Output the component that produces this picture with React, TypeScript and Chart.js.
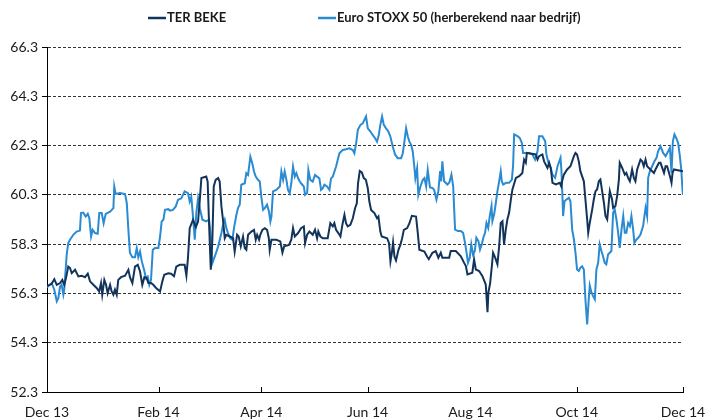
import React, { useEffect, useRef } from "react";
import { Chart, registerables } from "chart.js";

Chart.register(...registerables);

// x values: days since the first date on the axis (end of Nov 2013)
const X_TICK_DAYS = [0, 64, 123, 184, 243, 304, 365];
const X_TICK_LABELS = ["Dec 13", "Feb 14", "Apr 14", "Jun 14", "Aug 14", "Oct 14", "Dec 14"];
const Y_TICKS = [52.3, 54.3, 56.3, 58.3, 60.3, 62.3, 64.3, 66.3];

const SERIES_NAMES = ["TER BEKE", "Euro STOXX 50 (herberekend naar bedrijf)"];
const SERIES_COLORS = ["#12345a", "#2a8bd2"];

const TER_DAYS = [
  0, 2.7, 4.2, 5.6, 7.5, 8.8, 9.9, 10.9, 12.2, 13.2, 14.2, 16.1, 18.0, 19.9, 21.8, 23.4, 24.7, 26.6, 28.5, 29.9,
  31.0, 31.7, 32.9, 33.9, 34.8, 36.2, 37.1, 38.1, 39.0, 40.0, 40.9, 42.5, 44.8, 46.7, 47.6, 49.0, 50.5, 52.1, 53.4, 54.7,
  55.9, 57.2, 58.2, 59.7, 61.0, 62.6, 64.9, 66.2, 67.3, 69.6, 71.2, 72.9, 74.2, 76.2, 79.0, 80.0, 80.9, 81.9, 83.8, 85.4,
  86.7, 87.7, 88.6, 91.4, 92.2, 93.0, 94.0, 94.9, 95.7, 96.8, 98.2, 99.1, 100.1, 101.0, 102.0, 102.9, 104.9, 106.8, 107.7, 109.1,
  110.0, 111.2, 112.5, 113.5, 114.4, 115.4, 117.3, 118.8, 119.8, 120.6, 121.7, 122.4, 123.6, 125.0, 126.3, 127.3, 127.8, 128.8, 131.6, 133.9,
  135.1, 136.1, 138.9, 140.2, 141.2, 142.2, 144.1, 145.8, 147.4, 148.1, 149.3, 150.6, 152.5, 153.8, 155.0, 155.7, 156.9, 158.3, 161.1, 162.6,
  164.0, 164.9, 165.9, 167.2, 168.4, 169.7, 170.7, 171.6, 172.6, 174.1, 175.5, 176.8, 177.8, 178.5, 179.5, 180.7, 181.8, 183.0, 184.1, 185.0,
  186.0, 187.9, 189.4, 190.2, 191.3, 192.1, 195.2, 196.3, 197.1, 197.9, 198.6, 199.4, 200.3, 201.7, 202.8, 203.8, 204.8, 206.7, 208.0, 209.4,
  211.8, 212.8, 213.7, 216.6, 218.1, 219.1, 221.2, 223.1, 224.6, 226.0, 226.9, 230.8, 231.7, 234.6, 237.5, 239.4, 240.4, 241.3, 244.1, 245.1,
  246.1, 248.0, 249.9, 251.8, 252.8, 253.3, 254.3, 255.3, 256.0, 257.2, 258.5, 259.5, 260.4, 261.4, 262.3, 263.3, 264.2, 265.2, 266.2, 267.1,
  269.1, 271.0, 272.8, 273.8, 274.8, 275.4, 280.5, 281.5, 282.4, 284.3, 285.3, 287.2, 288.2, 289.1, 290.1, 292.0, 294.3, 295.1, 295.6, 296.6,
  298.5, 300.4, 302.4, 303.3, 304.2, 305.2, 306.1, 308.1, 309.0, 310.0, 310.6, 311.5, 312.9, 313.8, 314.8, 315.7, 316.7, 317.6, 318.6, 319.6,
  320.5, 321.5, 322.4, 323.0, 324.3, 324.9, 326.2, 327.2, 328.2, 328.7, 330.1, 331.6, 332.5, 333.5, 334.5, 335.8, 336.8, 337.7, 338.7, 340.6,
  341.6, 342.5, 343.5, 344.4, 346.3, 348.3, 349.2, 351.2, 352.1, 354.1, 355.0, 355.9, 357.5, 358.4, 359.0, 359.8, 365.0,
];
const TER_VALUES = [
  56.6, 56.69, 56.88, 56.65, 56.72, 56.85, 56.65, 56.92, 57.39, 57.33, 57.12, 57.26, 56.99, 57.02, 56.96, 57.1, 56.79, 56.65, 56.52, 56.38,
  56.72, 56.25, 56.85, 56.65, 56.31, 56.65, 56.38, 56.25, 56.45, 56.25, 56.85, 56.96, 57.02, 57.26, 56.96, 56.72, 57.39, 57.46, 57.19, 56.65,
  56.96, 56.92, 56.72, 56.72, 56.65, 56.52, 56.38, 56.79, 57.06, 57.12, 57.1, 57.0, 57.39, 57.46, 57.46, 57.02, 57.73, 58.95, 59.29, 58.99,
  59.22, 60.1, 60.98, 61.04, 60.84, 59.15, 57.26, 58.48, 60.64, 60.91, 60.98, 60.84, 59.83, 59.29, 58.54, 58.68, 58.61, 58.54, 58.0, 58.68,
  58.61, 58.21, 58.61, 58.14, 58.07, 58.68, 58.81, 58.88, 58.48, 58.68, 58.48, 58.68, 58.88, 58.95, 58.88, 58.54, 58.07, 58.48, 58.48, 58.41,
  57.96, 58.21, 58.27, 58.48, 58.95, 58.61, 58.75, 58.95, 59.02, 58.34, 58.68, 58.81, 58.68, 58.88, 58.54, 58.81, 58.61, 58.54, 58.54, 59.15,
  59.02, 59.15, 58.88, 58.75, 58.61, 59.15, 59.49, 59.15, 59.02, 59.08, 59.35, 59.76, 59.96, 60.77, 61.27, 61.21, 60.98, 60.91, 60.57, 60.03,
  59.69, 59.56, 59.35, 59.42, 58.81, 58.61, 58.54, 58.34, 57.6, 57.94, 58.37, 57.8, 57.64, 58.07, 58.27, 58.54, 58.88, 58.95, 59.15, 59.45,
  59.42, 58.75, 58.07, 58.0, 57.8, 57.69, 57.95, 58.02, 57.75, 57.95, 57.75, 57.75, 58.02, 58.02, 57.81, 57.54, 57.41, 57.07, 57.14, 57.68,
  57.27, 57.21, 57.0, 56.66, 55.54, 56.33, 56.71, 57.41, 57.95, 57.75, 57.48, 58.22, 59.16, 59.23, 58.29, 58.89, 59.3, 59.57, 60.11, 60.52,
  60.99, 61.06, 61.19, 61.73, 61.6, 62.0, 61.94, 61.73, 61.87, 61.94, 61.66, 61.39, 61.6, 61.39, 60.79, 60.72, 60.79, 60.65, 60.85, 61.12,
  61.33, 61.46, 61.87, 62.0, 61.94, 61.66, 61.26, 60.85, 60.11, 59.3, 58.76, 59.16, 59.71, 60.11, 60.45, 60.52, 60.85, 60.92, 60.45, 59.98,
  59.44, 59.3, 59.98, 60.45, 60.11, 59.77, 59.84, 60.25, 60.92, 61.6, 61.39, 61.12, 61.19, 60.99, 60.85, 61.33, 60.99, 60.85, 61.33, 61.73,
  61.66, 61.46, 61.73, 61.46, 61.33, 61.19, 61.33, 61.6, 61.6, 61.19, 61.46, 61.46, 61.06, 60.79, 61.19, 61.33, 61.26,
];

const STOXX_DAYS = [
  0, 2.7, 4.2, 5.6, 6.5, 7.5, 8.4, 9.4, 9.9, 11.3, 12.2, 13.2, 15.1, 17.0, 18.9, 19.5, 20.8, 22.2, 23.4, 24.3,
  25.3, 26.2, 27.6, 29.1, 30.0, 31.4, 32.5, 33.7, 36.2, 38.1, 38.6, 39.4, 41.9, 44.8, 45.8, 46.7, 47.6, 49.0, 50.5, 51.5,
  52.4, 53.4, 54.4, 55.7, 56.8, 57.8, 58.7, 59.7, 60.7, 62.0, 63.9, 64.9, 65.8, 66.8, 67.7, 69.6, 70.6, 72.3, 73.9, 75.2,
  77.1, 79.0, 80.9, 81.9, 82.8, 83.8, 84.8, 85.7, 86.7, 87.7, 89.2, 91.4, 93.0, 94.0, 94.9, 96.3, 98.2, 100.1, 101.0, 102.0,
  102.9, 103.9, 105.2, 106.4, 107.3, 108.7, 109.6, 110.6, 111.5, 113.5, 114.4, 115.4, 116.7, 117.8, 118.8, 119.8, 121.1, 122.1, 123.0, 124.0,
  125.0, 126.3, 127.4, 128.2, 128.8, 129.7, 131.6, 133.6, 134.5, 135.5, 136.4, 137.4, 138.3, 139.3, 140.2, 141.2, 142.2, 143.1, 144.1, 145.1,
  145.8, 147.4, 148.1, 149.3, 150.0, 151.1, 152.5, 153.8, 155.0, 156.3, 157.3, 158.3, 159.2, 160.7, 162.1, 163.0, 164.0, 165.9, 167.8, 169.7,
  171.6, 173.5, 175.5, 176.4, 177.4, 178.4, 179.9, 181.2, 183.1, 184.1, 185.6, 186.9, 188.3, 189.4, 190.4, 191.3, 192.3, 193.3, 194.6, 195.9,
  197.1, 198.4, 199.8, 201.3, 203.2, 204.2, 205.1, 206.1, 207.1, 208.0, 209.0, 209.9, 210.8, 211.4, 212.4, 213.1, 214.3, 215.7, 216.6, 217.6,
  218.5, 219.8, 221.2, 222.2, 223.5, 224.6, 225.6, 226.2, 226.9, 227.9, 229.8, 230.9, 232.1, 233.1, 234.2, 235.9, 237.5, 238.8, 239.9, 240.7,
  241.6, 242.6, 243.5, 244.5, 245.5, 246.4, 247.6, 248.5, 249.5, 250.4, 251.4, 252.2, 253.2, 254.1, 255.1, 255.6, 256.6, 257.6, 258.5, 259.5,
  260.4, 261.0, 261.8, 263.5, 265.2, 266.8, 267.5, 268.1, 270.0, 271.3, 272.5, 273.2, 276.7, 278.6, 280.1, 281.5, 282.4, 284.3, 285.9, 286.6,
  287.8, 289.1, 290.1, 291.6, 293.0, 294.7, 295.2, 295.8, 296.2, 297.0, 298.1, 299.5, 300.4, 301.4, 302.4, 303.3, 304.2, 305.2, 306.1, 307.1,
  308.1, 309.0, 310.0, 310.9, 311.5, 312.4, 313.4, 314.4, 315.3, 316.3, 317.2, 318.2, 319.1, 320.1, 321.0, 322.0, 323.9, 324.9, 325.8, 326.8,
  327.8, 328.7, 329.7, 330.7, 331.6, 332.5, 333.5, 334.5, 335.4, 336.4, 337.1, 338.3, 339.3, 340.6, 342.1, 343.5, 344.4, 345.0, 346.0, 347.3,
  348.6, 349.8, 350.7, 352.1, 353.6, 355.0, 356.5, 357.5, 358.4, 359.2, 360.1, 361.1, 362.2, 363.2, 364.0, 364.7, 365.0,
];
const STOXX_VALUES = [
  56.55, 56.72, 56.45, 55.98, 56.11, 56.58, 56.65, 56.25, 56.45, 57.87, 58.34, 58.48, 58.68, 58.81, 58.85, 59.56, 59.58, 59.42, 59.53, 59.35,
  58.61, 58.88, 58.75, 58.72, 59.56, 59.56, 59.15, 59.53, 59.62, 59.76, 60.64, 60.34, 60.37, 60.33, 59.96, 58.88, 57.94, 57.77, 57.77, 58.14,
  57.77, 58.0, 57.6, 57.26, 56.92, 56.99, 56.65, 56.85, 58.07, 58.14, 58.14, 58.61, 59.22, 59.29, 59.69, 59.72, 59.66, 59.69, 59.83, 60.1,
  60.16, 60.44, 60.37, 60.03, 60.23, 59.42, 58.48, 59.56, 60.16, 59.76, 59.29, 59.22, 59.29, 58.61, 57.53, 57.8, 58.2, 58.75, 59.08, 59.29,
  58.95, 58.75, 58.54, 58.48, 58.95, 59.49, 59.76, 59.9, 60.71, 60.77, 61.18, 61.11, 61.85, 61.58, 61.25, 61.04, 60.91, 60.84, 60.23, 59.69,
  59.76, 59.9, 59.62, 59.22, 59.42, 60.44, 60.5, 60.64, 61.25, 60.91, 61.25, 60.91, 60.5, 60.37, 60.77, 61.45, 61.04, 61.18, 60.97, 60.84,
  60.77, 60.64, 60.3, 60.37, 61.31, 60.91, 60.84, 61.11, 61.04, 60.97, 60.5, 60.57, 60.71, 60.64, 60.5, 60.97, 61.04, 61.45, 61.99, 62.12,
  62.15, 62.19, 62.12, 61.99, 62.39, 62.94, 63.14, 63.2, 63.48, 63.0, 62.87, 62.73, 62.6, 62.46, 62.73, 63.14, 63.48, 63.14, 63.0, 62.87,
  62.66, 62.26, 61.93, 61.79, 61.79, 61.99, 62.46, 63.0, 62.66, 62.46, 62.33, 62.06, 61.45, 60.98, 61.38, 60.3, 60.64, 60.91, 60.98, 60.64,
  61.31, 60.6, 60.58, 60.5, 60.11, 60.45, 61.26, 60.85, 61.66, 60.85, 60.72, 60.8, 61.12, 60.65, 58.89, 58.83, 58.83, 58.76, 58.35, 58.0,
  57.54, 57.74, 58.29, 57.88, 58.02, 58.56, 58.42, 58.08, 58.29, 58.56, 58.76, 59.16, 58.96, 59.44, 59.84, 59.23, 59.5, 59.98, 60.45, 60.85,
  61.26, 60.85, 60.72, 60.79, 60.79, 60.92, 61.5, 62.75, 62.68, 62.61, 62.41, 62.0, 62.0, 61.94, 61.73, 62.07, 62.68, 62.68, 62.48, 61.94,
  61.6, 61.39, 61.12, 60.99, 61.46, 61.8, 61.33, 60.25, 59.44, 60.04, 60.11, 60.18, 60.04, 58.89, 58.49, 57.95, 57.27, 57.21, 57.34, 57.4,
  57.27, 56.06, 55.04, 56.06, 56.62, 56.35, 56.19, 56.06, 57.27, 57.54, 58.29, 58.02, 57.81, 57.54, 57.48, 57.88, 58.02, 59.57, 59.71, 59.3,
  58.76, 58.15, 58.89, 59.44, 58.76, 58.76, 59.16, 59.03, 59.44, 58.89, 58.35, 58.49, 58.56, 58.69, 59.03, 59.77, 59.44, 60.99, 61.26, 61.46,
  61.66, 61.8, 62.07, 62.27, 62.0, 61.87, 62.07, 62.21, 61.19, 62.48, 62.75, 62.61, 62.41, 61.87, 61.33, 60.52, 60.3,
];

const FONT = "Lato, 'Open Sans', sans-serif";

const decorPlugin = {
  id: "decor",
  afterDraw(chart: any) {
    const { ctx, chartArea, scales } = chart;
    ctx.save();
    // inward tick marks on the x axis
    ctx.strokeStyle = "#000";
    ctx.lineWidth = 1;
    scales.x.ticks.forEach((t: any) => {
      const px = Math.round(scales.x.getPixelForValue(t.value)) + 0.5;
      ctx.beginPath();
      ctx.moveTo(px, chartArea.bottom);
      ctx.lineTo(px, chartArea.bottom - 5);
      ctx.stroke();
    });
    // legend
    const starts = [148, 318];
    const y = 18;
    ctx.font = `bold 13px ${FONT}`;
    ctx.textBaseline = "middle";
    ctx.textAlign = "left";
    chart.data.datasets.forEach((ds: any, i: number) => {
      const x0 = starts[i];
      ctx.strokeStyle = ds.borderColor;
      ctx.lineWidth = 2.5;
      ctx.beginPath();
      ctx.moveTo(x0, y);
      ctx.lineTo(x0 + 18, y);
      ctx.stroke();
      ctx.fillStyle = "#1a1a1a";
      ctx.fillText(ds.label, x0 + 19, y);
    });
    ctx.restore();
  },
};

export default function App() {
  const ref = useRef<HTMLCanvasElement | null>(null);
  useEffect(() => {
    if (!ref.current) return;
    const ter = TER_DAYS.map((d, i) => ({ x: d, y: TER_VALUES[i] }));
    const stoxx = STOXX_DAYS.map((d, i) => ({ x: d, y: STOXX_VALUES[i] }));
    const chart = new Chart(ref.current, {
      type: "line",
      data: {
        datasets: [
          { label: SERIES_NAMES[0], data: ter, borderColor: SERIES_COLORS[0], borderWidth: 2, pointRadius: 0, tension: 0, order: 1 },
          { label: SERIES_NAMES[1], data: stoxx, borderColor: SERIES_COLORS[1], borderWidth: 2, pointRadius: 0, tension: 0, order: 2 },
        ],
      },
      options: {
        responsive: false,
        animation: false,
        layout: { padding: { top: 47, right: 22, left: 0, bottom: 0 } },
        plugins: { legend: { display: false }, tooltip: { enabled: false } },
        scales: {
          x: {
            type: "linear",
            min: 0,
            max: 365,
            grid: { display: false, drawTicks: false },
            border: { display: true, color: "#000", width: 1 },
            afterBuildTicks: (s: any) => {
              s.ticks = X_TICK_DAYS.map((v) => ({ value: v }));
            },
            afterFit: (s: any) => {
              s.height = 27;
              s.paddingLeft = 0;
              s.paddingRight = 0;
            },
            ticks: {
              autoSkip: false,
              maxRotation: 0,
              padding: 12,
              color: "#1a1a1a",
              font: { family: FONT, size: 14 },
              callback: (_v: any, i: number) => X_TICK_LABELS[i],
            },
          },
          y: {
            type: "linear",
            min: 52.3,
            max: 66.3,
            grid: { color: "#333", lineWidth: 1, tickLength: 5, tickColor: "#000", tickBorderDash: [] },
            border: { display: true, color: "#000", width: 1, dash: [3, 2] },
            afterBuildTicks: (s: any) => {
              s.ticks = Y_TICKS.map((v) => ({ value: v }));
            },
            afterFit: (s: any) => {
              s.width = 47;
            },
            ticks: {
              padding: 4,
              color: "#1a1a1a",
              font: { family: FONT, size: 14 },
              callback: (v: any) => Number(v).toFixed(1),
            },
          },
        },
      },
      plugins: [decorPlugin],
    });
    return () => chart.destroy();
  }, []);
  return (
    <div style={{ position: "absolute", left: 0, top: 0, width: 705, height: 419, background: "#fff" }}>
      <canvas ref={ref} width={705} height={419} style={{ display: "block" }} />
    </div>
  );
}
